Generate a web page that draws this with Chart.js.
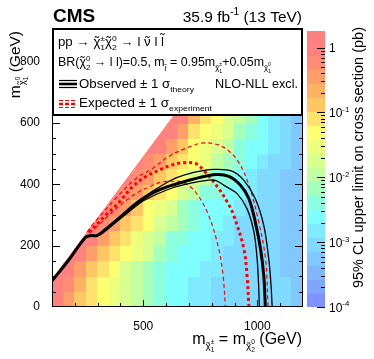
<!DOCTYPE html>
<html>
<head>
<meta charset="utf-8">
<script src="https://cdn.jsdelivr.net/npm/chart.js@4.4.1/dist/chart.umd.min.js"></script>
<style>
  html, body { margin: 0; padding: 0; background: #fff; }
  canvas { display: block; }
</style>
</head>
<body>
<canvas id="limitChart" width="374" height="359"></canvas>
<script>
// Upper limit map: bin centres in GeV (50 GeV bins)
const xCentres = [125, 175, 225, 275, 325, 375, 425, 475, 525, 575, 625, 675, 725, 775, 825, 875, 925, 975, 1025, 1075, 1125, 1175];
const yCentres = [25, 75, 125, 175, 225, 275, 325, 375, 425, 475, 525, 575, 625];

// log10 of the 95% CL upper limit (pb), one row per LSP mass bin, bottom row first
const logLimit = [
  [-0.1, -0.45, -0.8, -1.1, -1.3, -1.5, -1.75, -2.0, -2.2, -2.45, -2.6, -2.7, -2.8, -2.9, -2.95, -3.0, -3.0, -3.05, -3.05, -3.1, -3.1, -3.15],
  [0.05, -0.3, -0.7, -1.0, -1.25, -1.45, -1.7, -1.95, -2.15, -2.4, -2.55, -2.65, -2.75, -2.85, -2.95, -3.0, -3.0, -3.05, -3.05, -3.1, -3.1, -3.15],
  [0.2, -0.05, -0.55, -0.95, -1.2, -1.4, -1.65, -1.9, -2.1, -2.35, -2.5, -2.6, -2.7, -2.8, -2.9, -3.0, -3.0, -3.05, -3.05, -3.1, -3.15, -3.2],
  [null, 0.2, -0.1, -0.5, -0.9, -1.2, -1.4, -1.6, -1.85, -2.1, -2.35, -2.5, -2.6, -2.7, -2.85, -2.95, -3.0, -3.05, -3.05, -3.1, -3.15, -3.2],
  [null, null, 0.2, -0.1, -0.55, -0.95, -1.2, -1.5, -1.75, -2.05, -2.3, -2.45, -2.55, -2.65, -2.75, -2.9, -3.0, -3.05, -3.05, -3.1, -3.15, -3.2],
  [null, null, null, 0.2, -0.15, -0.45, -0.8, -1.15, -1.4, -1.7, -1.95, -2.25, -2.45, -2.55, -2.65, -2.8, -2.95, -3.0, -3.05, -3.1, -3.15, -3.2],
  [null, null, null, null, 0.2, -0.15, -0.55, -0.9, -1.25, -1.5, -1.75, -2.1, -2.35, -2.5, -2.6, -2.7, -2.85, -3.0, -3.05, -3.1, -3.15, -3.2],
  [null, null, null, null, null, 0.2, -0.15, -0.5, -0.85, -1.2, -1.4, -1.7, -2.05, -2.3, -2.45, -2.55, -2.7, -2.9, -3.0, -3.1, -3.15, -3.2],
  [null, null, null, null, null, null, 0.2, -0.15, -0.5, -0.9, -1.2, -1.4, -1.7, -2.0, -2.3, -2.45, -2.6, -2.75, -2.95, -3.05, -3.15, -3.2],
  [null, null, null, null, null, null, null, 0.2, -0.15, -0.5, -0.9, -1.2, -1.35, -1.6, -1.9, -2.2, -2.45, -2.6, -2.8, -3.0, -3.1, -3.2],
  [null, null, null, null, null, null, null, null, 0.25, -0.1, -0.55, -0.95, -1.25, -1.45, -1.7, -2.0, -2.3, -2.5, -2.65, -2.9, -3.05, -3.15],
  [null, null, null, null, null, null, null, null, null, 0.25, -0.1, -0.55, -1.0, -1.3, -1.55, -1.8, -2.1, -2.35, -2.6, -2.8, -3.0, -3.15],
  [null, null, null, null, null, null, null, null, null, null, 0.25, -0.1, -0.6, -1.15, -1.4, -1.7, -2.0, -2.25, -2.6, -2.85, -3.0, -3.15]
];

// Exclusion contours, [m(chargino), m(LSP)] in GeV
const observed = [[100, 85], [175, 155], [246, 227], [270, 233], [297, 233], [340, 255], [392, 288], [450, 325], [509, 358], [570, 382], [626, 397], [714, 416], [816, 432], [875, 426], [926, 397], [963, 353], [991, 277], [1014, 189], [1028, 102], [1035, 0]];
const observedUp = [[297, 234], [392, 292], [470, 342], [540, 377], [626, 415], [685, 432], [760, 445], [816, 449], [889, 443], [941, 413], [991, 353], [1028, 266], [1050, 156], [1060, 70], [1065, 0]];
const observedDown = [[297, 232], [392, 284], [470, 330], [509, 350], [626, 388], [714, 405], [780, 413], [816, 413], [860, 394], [912, 369], [955, 320], [985, 244], [999, 156], [1005, 80], [1009, 0]];
const expected = [[262, 243], [334, 298], [392, 340], [451, 391], [510, 425], [568, 446], [620, 462], [670, 470], [728, 468], [772, 440], [831, 386], [870, 340], [897, 298], [941, 189], [955, 100], [963, 0]];
const expectedUp = [[255, 245], [275, 266], [392, 364], [470, 420], [539, 451], [610, 490], [685, 517], [765, 535], [846, 523], [912, 479], [963, 397], [1006, 277], [1036, 156], [1047, 0]];
const expectedDown = [[262, 243], [300, 265], [380, 320], [465, 369], [530, 393], [582, 408], [630, 410], [670, 408], [729, 375], [787, 298], [831, 189], [850, 100], [860, 0]];

const xTickLabels = [500, 1000];
const yTickLabels = [0, 200, 400, 600, 800];
const zDecades = [-4, -3, -2, -1, 0];

const FONT = "'Liberation Sans', Arial, Helvetica, sans-serif";
const DIAG = 8;          // map is filled only below m(LSP) = m(chargino) - DIAG
const Z_MIN = 1e-4, Z_MAX = 1.8;
const BAND = 0.215;

// palette of the colour axis, log10(limit) -> rgb
const stops = [
  [0.3, [255, 128, 128]], [-0.1, [255, 130, 125]], [-0.3, [255, 145, 112]], [-0.6, [255, 170, 100]],
  [-0.9, [255, 200, 100]], [-1.1, [255, 225, 110]], [-1.3, [255, 255, 112]], [-1.55, [235, 255, 128]],
  [-1.75, [215, 255, 145]], [-2.0, [190, 255, 165]], [-2.2, [160, 255, 192]], [-2.4, [140, 255, 225]],
  [-2.6, [128, 255, 255]], [-2.85, [128, 232, 255]], [-3.05, [128, 216, 255]], [-3.25, [128, 200, 255]],
  [-3.45, [128, 184, 255]], [-3.65, [128, 168, 255]], [-4.0, [128, 136, 255]]
];

function colourAt(L) {
  if (L >= stops[0][0]) return stops[0][1];
  for (let i = 1; i < stops.length; i++) {
    const [l1, c1] = stops[i - 1], [l2, c2] = stops[i];
    if (L >= l2) {
      const t = (L - l2) / (l1 - l2);
      return c2.map((v, k) => Math.round(v + (c1[k] - v) * t));
    }
  }
  return stops[stops.length - 1][1];
}
function bandColour(L) {
  const i = Math.max(0, Math.floor((L + 4) / BAND));
  const c = colourAt(-4 + (i + 0.5) * BAND);
  return 'rgb(' + c.join(',') + ')';
}

function font(size, bold) { return (bold ? 'bold ' : '') + size.toFixed(1) + 'px ' + FONT; }

// segments: [text, size factor, dy (em), advance, tilde ('x' over small letter, 'a' over ascender)]
function richWidth(ctx, segs, size) {
  let w = 0;
  for (const [t, f, , adv] of segs) {
    ctx.font = font(size * f);
    if (adv) w += ctx.measureText(t).width;
  }
  return w;
}
// fitWidth: optional width in px the text is squeezed / stretched to
function drawRich(ctx, segs, x, y, size, align, fitWidth) {
  const w = richWidth(ctx, segs, size);
  const sx = fitWidth ? fitWidth / w : 1;
  const total = w * sx;
  if (align === 'right') x -= total;
  else if (align === 'center') x -= total / 2;
  ctx.save();
  ctx.translate(x, y);
  ctx.scale(sx, 1);
  ctx.textAlign = 'left';
  ctx.textBaseline = 'alphabetic';
  let cx = 0;
  for (const [t, f, dy, adv, tl] of segs) {
    ctx.font = font(size * f);
    const by = dy * size;
    ctx.fillText(t, cx, by);
    const tw = ctx.measureText(t).width;
    if (tl) {
      const sw = ctx.measureText('˜').width;
      ctx.fillText('˜', cx + tw / 2 - sw / 2, by - (tl === 'a' ? 0.25 : 0.02) * size * f);
    }
    if (adv) cx += tw;
  }
  ctx.restore();
}
function chiSub(sup, sub) {
  return [['χ', 0.62, 0.3, 1, 'x'], [sup, 0.42, 0.02, 0], [sub, 0.42, 0.52, 1]];
}

const mapPlugin = {
  id: 'limitMap',
  beforeDatasetsDraw(chart) {
    const { ctx, chartArea: a, scales: { x, y } } = chart;
    ctx.save();
    ctx.beginPath();
    ctx.rect(a.left, a.top, a.right - a.left, a.bottom - a.top);
    ctx.clip();
    ctx.beginPath();
    ctx.moveTo(x.getPixelForValue(100), y.getPixelForValue(0));
    ctx.lineTo(x.getPixelForValue(100), y.getPixelForValue(100 - DIAG));
    ctx.lineTo(x.getPixelForValue(900 + DIAG), y.getPixelForValue(900));
    ctx.lineTo(x.getPixelForValue(1200), y.getPixelForValue(900));
    ctx.lineTo(x.getPixelForValue(1200), y.getPixelForValue(0));
    ctx.closePath();
    ctx.clip();
    logLimit.forEach((row, r) => {
      row.forEach((v, c) => {
        if (v === null) return;
        const x0 = Math.floor(x.getPixelForValue(xCentres[c] - 25));
        const x1 = Math.ceil(x.getPixelForValue(xCentres[c] + 25));
        const y0 = Math.floor(y.getPixelForValue(yCentres[r] + 25));
        const y1 = Math.ceil(y.getPixelForValue(yCentres[r] - 25));
        ctx.fillStyle = bandColour(v);
        ctx.fillRect(x0, y0, x1 - x0, y1 - y0);
      });
    });
    ctx.restore();
  },
  afterDatasetsDraw(chart) {
    const { ctx, chartArea: a, scales: { x, y, z } } = chart;
    ctx.save();
    ctx.fillStyle = '#000';
    ctx.strokeStyle = '#000';

    // frame and inner ticks
    ctx.lineWidth = 1;
    ctx.strokeRect(a.left + 0.5, a.top + 0.5, a.right - a.left - 1, a.bottom - a.top - 1);
    ctx.beginPath();
    for (let m = 200; m < 1200; m += 100) {
      const px = Math.round(x.getPixelForValue(m)) + 0.5;
      const len = m % 500 === 0 ? 7 : 4;
      ctx.moveTo(px, a.bottom); ctx.lineTo(px, a.bottom - len);
    }
    for (let m = 50; m < 900; m += 50) {
      const py = Math.round(y.getPixelForValue(m)) + 0.5;
      const len = m % 200 === 0 ? 8 : 4;
      ctx.moveTo(a.left, py); ctx.lineTo(a.left + len, py);
      ctx.moveTo(a.right, py); ctx.lineTo(a.right - len, py);
    }
    ctx.stroke();

    // legend box
    const bx = a.left + 1, by = 29, bw = a.right - a.left - 2, bh = 86;
    ctx.fillStyle = '#fff';
    ctx.fillRect(bx, by, bw, bh);
    ctx.lineWidth = 2;
    ctx.strokeRect(bx, by, bw, bh);
    ctx.fillStyle = '#000';
    const ls = 12.5;
    drawRich(ctx, [
      ['pp → ', 1, 0, 1], ['χ', 1, 0, 1, 'x'], ['±', 0.65, -0.4, 0], ['1', 0.65, 0.3, 1],
      ['χ', 1, 0, 1, 'x'], ['0', 0.65, -0.4, 0], ['2', 0.65, 0.3, 1],
      [' → l ', 1, 0, 1], ['ν', 1, 0, 1, 'x'], [' l ', 1, 0, 1], ['l', 1, 0, 1, 'a']
    ], 58, 46, ls, 'left', 106);
    drawRich(ctx, [
      ['BR(', 1, 0, 1], ['χ', 1, 0, 1, 'x'], ['0', 0.65, -0.4, 0], ['2', 0.65, 0.3, 1],
      [' → l l)=0.5, m', 1, 0, 1], ['l', 0.65, 0.4, 1, 'a'], [' = 0.95m', 1, 0, 1], ...chiSub('±', '1'),
      ['+0.05m', 1, 0, 1], ...chiSub('0', '1')
    ], 58, 66, ls, 'left', 213);
    drawRich(ctx, [['Observed ± 1 σ', 1, 0, 1], ['theory', 0.65, 0.3, 1]], 79, 88, ls, 'left', 115);
    drawRich(ctx, [['NLO-NLL excl.', 1, 0, 1]], 298, 88, ls, 'right', 83);
    drawRich(ctx, [['Expected ± 1 σ', 1, 0, 1], ['experiment', 0.65, 0.3, 1]], 79, 107, ls, 'left', 133);
    // legend symbols
    [[80.5, 1.2], [84, 2.6], [87.5, 1.2]].forEach(([ly, lw]) => {
      ctx.beginPath(); ctx.lineWidth = lw; ctx.strokeStyle = '#000'; ctx.setLineDash([]);
      ctx.moveTo(59, ly); ctx.lineTo(77, ly); ctx.stroke();
    });
    [[100.5, 1.2], [104, 2.6], [107.5, 1.2]].forEach(([ly, lw]) => {
      ctx.beginPath(); ctx.lineWidth = lw; ctx.strokeStyle = '#ff0000'; ctx.setLineDash([4, 2]);
      ctx.moveTo(59, ly); ctx.lineTo(77, ly); ctx.stroke();
    });
    ctx.setLineDash([]);

    // colour axis
    const cx0 = 307, cx1 = 325;
    const topL = Math.log10(Z_MAX);
    for (let lo = -4; lo < topL; lo += BAND) {
      const hi = Math.min(lo + BAND, topL);
      const p0 = z.getPixelForValue(Math.pow(10, lo));
      const p1 = z.getPixelForValue(Math.pow(10, hi));
      ctx.fillStyle = bandColour(lo + BAND / 2);
      ctx.fillRect(cx0, Math.floor(p1), cx1 - cx0, Math.ceil(p0) - Math.floor(p1));
    }
    ctx.strokeStyle = '#000';
    ctx.lineWidth = 1;
    ctx.beginPath();
    zDecades.forEach(d => {
      for (let k = 1; k <= 9; k++) {
        const v = k * Math.pow(10, d);
        if (v > Z_MAX) break;
        const py = Math.round(z.getPixelForValue(v)) + 0.5;
        const len = k === 1 ? 8 : 4;
        ctx.moveTo(cx1, py); ctx.lineTo(cx1 - len, py);
      }
    });
    ctx.stroke();
    ctx.fillStyle = '#000';
    zDecades.forEach(d => {
      const py = z.getPixelForValue(Math.pow(10, d)) + 4.5;
      if (d === 0) drawRich(ctx, [['1', 1, 0, 1]], 329, py, 12, 'left');
      else drawRich(ctx, [['10', 1, 0, 1], [String(d), 0.65, -0.42, 1]], 329, py, 12, 'left');
    });

    // titles
    ctx.font = font(19, true);
    ctx.textAlign = 'left';
    ctx.textBaseline = 'alphabetic';
    ctx.fillText('CMS', 53, 22);
    drawRich(ctx, [['35.9 fb', 1, 0, 1], ['-1', 0.65, -0.42, 1], [' (13 TeV)', 1, 0, 1]], 302, 22, 15.5, 'right');
    drawRich(ctx, [['m', 1, 0, 1], ...chiSub('±', '1'), [' = m', 1, 0, 1], ...chiSub('0', '2'), [' (GeV)', 1, 0, 1]], 302, 344, 16, 'right');

    ctx.save();
    ctx.translate(20, a.top);
    ctx.rotate(-Math.PI / 2);
    drawRich(ctx, [['m', 1, 0, 1], ...chiSub('0', '1'), [' (GeV)', 1, 0, 1]], 0, 0, 15.5, 'right');
    ctx.restore();

    ctx.save();
    ctx.translate(363, 27);
    ctx.rotate(-Math.PI / 2);
    drawRich(ctx, [['95% CL upper limit on cross section (pb)', 1, 0, 1]], 0, 0, 14.5, 'right');
    ctx.restore();

    ctx.restore();
  }
};

function toPoints(arr) { return arr.map(([mx, my]) => ({ x: mx, y: my })); }
function contour(label, arr, colour, width, dash) {
  return {
    label: label,
    data: toPoints(arr),
    showLine: true,
    borderColor: colour,
    borderWidth: width,
    borderDash: dash,
    pointRadius: 0,
    tension: 0.35,
    fill: false
  };
}

const ctx = document.getElementById('limitChart').getContext('2d');
const limitChart = new Chart(ctx, {
  type: 'scatter',
  data: {
    datasets: [
      contour('Observed', observed, '#000000', 3, []),
      contour('Observed +1 sigma', observedUp, '#000000', 1.3, []),
      contour('Observed -1 sigma', observedDown, '#000000', 1.3, []),
      contour('Expected', expected, '#ff0000', 3, [3, 3]),
      contour('Expected +1 sigma', expectedUp, '#ff0000', 1.2, [4, 3]),
      contour('Expected -1 sigma', expectedDown, '#ff0000', 1.2, [4, 3])
    ]
  },
  options: {
    responsive: false,
    animation: false,
    devicePixelRatio: 1,
    layout: { padding: { top: 31, left: 0, right: 0, bottom: 0 } },
    plugins: {
      legend: { display: false },
      tooltip: { enabled: false }
    },
    scales: {
      x: {
        type: 'linear',
        min: 100,
        max: 1200,
        grid: { display: false },
        border: { display: false },
        ticks: {
          stepSize: 100,
          autoSkip: false,
          maxRotation: 0,
          padding: 4,
          color: '#000',
          font: { family: FONT, size: 12 },
          callback: v => xTickLabels.includes(v) ? String(v) : ''
        },
        afterFit: s => { s.height = 52; }
      },
      y: {
        type: 'linear',
        min: 0,
        max: 900,
        grid: { display: false },
        border: { display: false },
        ticks: {
          stepSize: 50,
          autoSkip: false,
          padding: 4,
          color: '#000',
          font: { family: FONT, size: 12 },
          callback: v => yTickLabels.includes(v) ? String(v) : ''
        },
        afterFit: s => { s.width = 52; }
      },
      z: {
        type: 'logarithmic',
        position: 'right',
        min: Z_MIN,
        max: Z_MAX,
        grid: { display: false },
        border: { display: false },
        ticks: { display: false },
        afterFit: s => { s.width = 71; }
      }
    }
  },
  plugins: [mapPlugin]
});
</script>
</body>
</html>
